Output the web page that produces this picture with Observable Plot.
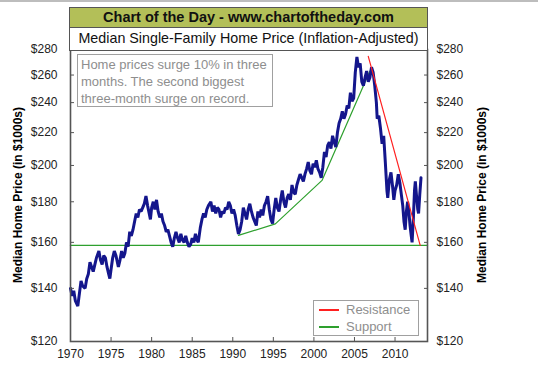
<!DOCTYPE html>
<html><head><meta charset="utf-8">
<script src="https://cdn.jsdelivr.net/npm/d3@7"></script>
<script src="https://cdn.jsdelivr.net/npm/@observablehq/plot@0.6"></script>
<style>
body{margin:0;background:#fff;font-family:"Liberation Sans",Arial,sans-serif;}
#wrap{position:relative;width:538px;height:377px;overflow:hidden;background:#fff;}
#topline{position:absolute;left:0;top:0;width:538px;height:2px;background:#bdbdbd;}
#chart{position:absolute;left:0;top:0;}
.box{position:absolute;box-sizing:border-box;border:1.5px solid #555;text-align:center;color:#111;}
#title{left:69px;top:7px;width:359px;height:22px;background:#b3bf58;font-weight:bold;font-size:14.5px;line-height:19px;}
#subtitle{left:69px;top:27px;width:359px;height:24px;background:#fff;font-size:14.3px;line-height:21px;}
#note{position:absolute;left:77px;top:54px;width:196px;height:53px;box-sizing:border-box;border:1.5px solid #a0a0a0;color:#8e8e8e;font-size:13px;line-height:17px;padding:1px 0 0 3px;background:#fff;}
#legend{position:absolute;left:313px;top:300px;width:106px;height:36px;box-sizing:border-box;border:1.5px solid #a0a0a0;background:#fff;color:#8e8e8e;font-size:13px;}
.lg{position:absolute;left:5px;width:20px;height:1.5px;}
.lt{position:absolute;left:32px;line-height:14px;}
.ytitle{position:absolute;font-weight:bold;font-size:12px;color:#000;white-space:nowrap;transform:translate(-50%,-50%) rotate(-90deg);}
</style></head>
<body>
<div id="wrap">
  <div id="chart"></div>
  <div id="topline"></div>
  <div class="box" id="title">Chart of the Day - www.chartoftheday.com</div>
  <div class="box" id="subtitle">Median Single-Family Home Price (Inflation-Adjusted)</div>
  <div id="note">Home prices surge 10% in three<br>months. The second biggest<br>three-month surge on record.</div>
  <div id="legend">
    <div class="lg" style="top:8px;background:#ff2020"></div><div class="lt" style="top:2px">Resistance</div>
    <div class="lg" style="top:25px;background:#2ea02e"></div><div class="lt" style="top:19px">Support</div>
  </div>
  <div class="ytitle" style="left:18px;top:195px">Median Home Price (in $1000s)</div>
  <div class="ytitle" style="left:482px;top:195px">Median Home Price (in $1000s)</div>
</div>
<script>
const years = [
1970.0,1970.2,1970.4,1970.6,1970.9,1971.1,1971.3,1971.5,1971.8,1972.0,1972.2,1972.4,1972.6,1972.8,
1973.0,1973.2,1973.5,1973.7,1973.9,1974.1,1974.3,1974.5,1974.7,1974.85,1975.0,1975.2,1975.4,1975.6,1975.9,
1976.1,1976.3,1976.5,1976.7,1976.9,1977.1,1977.3,1977.5,1977.7,1977.9,1978.1,1978.3,1978.5,1978.7,1978.9,
1979.1,1979.3,1979.5,1979.7,1979.85,1980.0,1980.2,1980.4,1980.6,1980.8,1981.0,1981.2,1981.4,1981.6,1981.8,
1982.0,1982.2,1982.4,1982.6,1982.8,1983.0,1983.2,1983.4,1983.6,1983.8,1984.0,1984.2,1984.4,1984.6,1984.8,
1985.0,1985.2,1985.4,1985.6,1985.75,1986.0,1986.2,1986.4,1986.6,1986.8,1987.0,1987.3,1987.5,1987.7,1987.9,
1988.1,1988.3,1988.5,1988.7,1988.9,1989.1,1989.3,1989.5,1989.7,1989.9,1990.1,1990.3,1990.5,1990.7,1990.9,
1991.1,1991.3,1991.5,1991.7,1991.9,1992.1,1992.3,1992.5,1992.7,1992.9,1993.1,1993.3,1993.5,1993.7,1993.9,
1994.1,1994.3,1994.5,1994.7,1994.9,1995.1,1995.3,1995.5,1995.7,1995.9,1996.1,1996.3,1996.5,1996.7,1996.9,
1997.1,1997.3,1997.5,1997.7,1997.9,1998.1,1998.3,1998.5,1998.7,1998.9,1999.1,1999.3,1999.5,1999.7,1999.9,
2000.1,2000.3,2000.5,2000.7,2000.9,2001.1,2001.3,2001.5,2001.7,2001.9,2002.1,2002.3,2002.5,2002.7,2002.9,
2003.1,2003.3,2003.5,2003.7,2003.9,2004.1,2004.3,2004.5,2004.7,2004.9,2005.1,2005.3,2005.5,2005.7,2005.9,
2006.1,2006.3,2006.5,2006.7,2006.9,2007.1,2007.3,2007.5,2007.7,2007.8,2008.0,2008.2,2008.4,2008.6,2008.8,
2009.0,2009.1,2009.3,2009.5,2009.7,2009.85,2010.0,2010.2,2010.4,2010.6,2010.8,2010.95,2011.1,2011.25,2011.4,
2011.55,2011.7,2011.85,2012.0,2012.1,2012.25,2012.4,2012.5,2012.65,2012.8,2012.9,2013.05,2013.2];
const prices = [
140,137,139,135,133,138,143,141,140,144,146,151,149,147,
150,153,156,152,150,154,153,149,146,144,148,153,156,154,149,
152,156,153,155,160,158,165,163,166,170,174,172,176,175,177,
179,183,178,174,171,177,180,176,181,175,172,174,170,168,165,
166,163,160,158,162,165,162,160,164,161,160,163,160,158,159,
162,160,164,161,160,167,171,174,172,176,178,180,175,178,174,
177,176,172,175,174,177,176,180,178,174,176,173,168,164,166,
170,177,174,171,176,179,175,172,170,168,175,172,176,173,178,
180,183,176,171,169,176,182,177,175,181,186,180,177,182,184,
181,189,185,184,189,192,195,193,191,195,198,202,197,195,201,
199,203,198,196,193,199,208,205,212,214,210,218,214,211,220,
226,229,234,229,232,238,236,247,241,243,262,274,266,269,255,
252,258,263,255,258,266,262,252,240,229,231,223,213,218,202,
186,182,192,196,188,181,186,189,195,190,183,178,170,166,175,
180,175,168,163,160,171,186,191,183,176,174,184,193];

const supportFlatYears = [1970, 2014];
const supportFlatValues = [158.6, 158.6];
const supportYears = [1990.7, 1995.25, 2001.0, 2006.9];
const supportValues = [163.3, 168.8, 191.5, 263];
const resistYears = [2006.7, 2013.1];
const resistValues = [274.5, 158.6];
const yTicks = [120,140,160,180,200,220,240,260,280];
const xTicks = [1970,1975,1980,1985,1990,1995,2000,2005,2010];

const series = years.map((y,i)=>({year:y, price:prices[i]}));
const flat = supportFlatYears.map((y,i)=>({year:y, price:supportFlatValues[i]}));
const support = supportYears.map((y,i)=>({year:y, price:supportValues[i]}));
const resist = resistYears.map((y,i)=>({year:y, price:resistValues[i]}));

const fmt = d => "$" + d;
const chart = Plot.plot({
  width: 538, height: 377,
  marginLeft: 70, marginRight: 111, marginTop: 49, marginBottom: 36,
  style: {fontFamily: "'Liberation Sans', Arial, sans-serif", fontSize: "12px", color: "#222", background: "transparent"},
  x: {domain: [1970, 2014]},
  y: {type: "log", domain: [120, 280]},
  marks: [
    Plot.line(flat, {x: "year", y: "price", stroke: "#2ea02e", strokeWidth: 1.3}),
    Plot.line(support, {x: "year", y: "price", stroke: "#2ea02e", strokeWidth: 1.2}),
    Plot.line(series, {x: "year", y: "price", stroke: "#14168c", strokeWidth: 3, strokeLinejoin: "miter"}),
    Plot.line(resist, {x: "year", y: "price", stroke: "#ff2020", strokeWidth: 1.2}),
    Plot.frame({stroke: "#555", strokeWidth: 1.6}),
    Plot.axisY({ticks: yTicks, anchor: "left", tickSize: -4, tickFormat: () => "", label: null, stroke: "#555"}),
    Plot.axisY({ticks: yTicks, anchor: "right", tickSize: -4, tickFormat: () => "", label: null, stroke: "#555"}),
    Plot.axisY({ticks: yTicks, anchor: "left", tickSize: 0, tickPadding: 13, tickFormat: fmt, label: null, fontSize: 12}),
    Plot.axisY({ticks: yTicks, anchor: "right", tickSize: 0, tickPadding: 9, tickFormat: fmt, label: null, fontSize: 12}),
    Plot.axisX({ticks: xTicks, anchor: "bottom", tickSize: -4, tickFormat: () => "", label: null, stroke: "#555"}),
    Plot.axisX({ticks: xTicks, anchor: "bottom", tickSize: 0, tickPadding: 8, tickFormat: d => String(d), label: null, fontSize: 12})
  ]
});
document.getElementById("chart").appendChild(chart);
</script>
</body></html>
